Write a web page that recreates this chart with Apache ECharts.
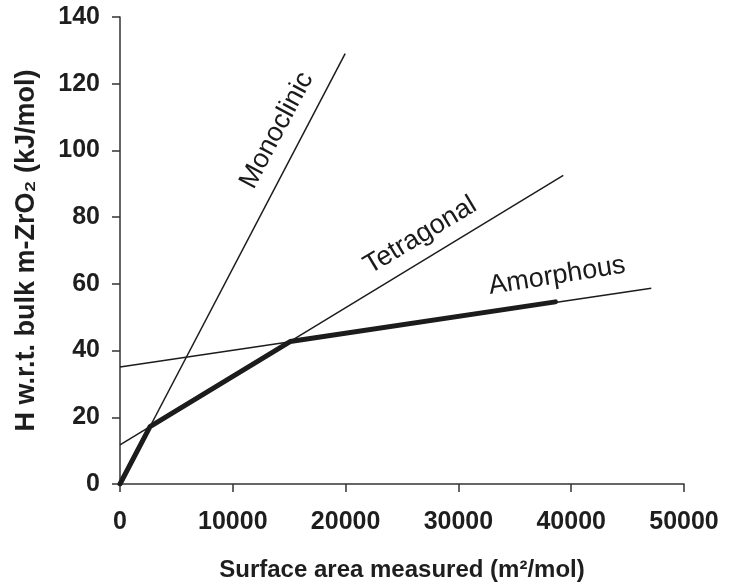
<!DOCTYPE html>
<html>
<head>
<meta charset="utf-8">
<script src="https://cdn.jsdelivr.net/npm/echarts@6/dist/echarts.min.js"></script>
<style>html,body{margin:0;padding:0;background:#fff;}#c{width:729px;height:587px;}</style>
</head>
<body>
<div id="c"></div>
<script>
// Data
var xTicks = [0, 10000, 20000, 30000, 40000, 50000];
var yTicks = [0, 20, 40, 60, 80, 100, 120, 140];
var monoclinic = [[0, 0], [19960, 129]];
var tetragonal = [[0, 11.7], [39300, 92.5]];
var amorphous = [[0, 35.1], [47100, 58.7]];
var stablePath = [[0, 0], [2660, 17.2], [15080, 42.7], [38600, 54.6]];
var labelNames = ['Monoclinic', 'Tetragonal', 'Amorphous'];
var labelPos = [[13900, 106], [26620, 74.5], [38750, 62.4]];
var labelAngle = [62, 31, 9];

var ink = '#1c1c1c';
var chart = echarts.init(document.getElementById('c'));

var thin = function (name, data) {
  return { name: name, type: 'line', data: data, symbol: 'none', silent: true,
    lineStyle: { color: ink, width: 1.5 }, z: 2 };
};

var labelData = labelNames.map(function (n, i) {
  return { value: [labelPos[i][0], labelPos[i][1]], name: n,
    label: { rotate: labelAngle[i] } };
});

chart.setOption({
  animation: false,
  grid: { left: 120, right: 45, top: 17, bottom: 102 },
  xAxis: {
    type: 'value', min: xTicks[0], max: xTicks[xTicks.length - 1], interval: 10000,
    name: 'Surface area measured (m²/mol)', nameLocation: 'middle', nameGap: 74,
    nameTextStyle: { fontFamily: 'Liberation Sans', fontWeight: 'bold', fontSize: 24, color: '#1e1e1e' },
    axisLine: { show: true, lineStyle: { color: '#333', width: 1.5 } },
    axisTick: { show: true, inside: false, length: 8, lineStyle: { color: '#333', width: 1.5 } },
    axisLabel: { margin: 26, fontFamily: 'Liberation Sans', fontWeight: 'bold', fontSize: 25, color: '#1e1e1e',
      formatter: function (v) { return String(v); } },
    splitLine: { show: false }
  },
  yAxis: {
    type: 'value', min: yTicks[0], max: yTicks[yTicks.length - 1], interval: 20,
    name: 'H w.r.t. bulk m-ZrO₂ (kJ/mol)', nameLocation: 'middle', nameGap: 80,
    nameTextStyle: { fontFamily: 'Liberation Sans', fontWeight: 'bold', fontSize: 27, color: '#1e1e1e' },
    axisLine: { show: true, lineStyle: { color: '#333', width: 1.5 } },
    axisTick: { show: true, inside: false, length: 8, lineStyle: { color: '#333', width: 1.5 } },
    axisLabel: { margin: 20, fontFamily: 'Liberation Sans', fontWeight: 'bold', fontSize: 25, color: '#1e1e1e',
      formatter: function (v) { return String(v); } },
    splitLine: { show: false }
  },
  series: [
    thin('Monoclinic', monoclinic),
    thin('Tetragonal', tetragonal),
    thin('Amorphous', amorphous),
    { name: 'Stable', type: 'line', data: stablePath, symbol: 'none', silent: true,
      lineStyle: { color: ink, width: 5, join: 'round', cap: 'round' }, z: 3 },
    { name: 'labels', type: 'scatter', data: labelData, symbolSize: 0, silent: true, z: 4,
      itemStyle: { color: '#1e1e1e', opacity: 1 },
      label: { show: true, position: 'inside', formatter: '{b}', align: 'center', verticalAlign: 'middle',
        fontFamily: 'Liberation Sans', fontSize: 27, color: '#1a1a1a', opacity: 1, textBorderWidth: 0 } }
  ]
});
</script>
</body>
</html>
